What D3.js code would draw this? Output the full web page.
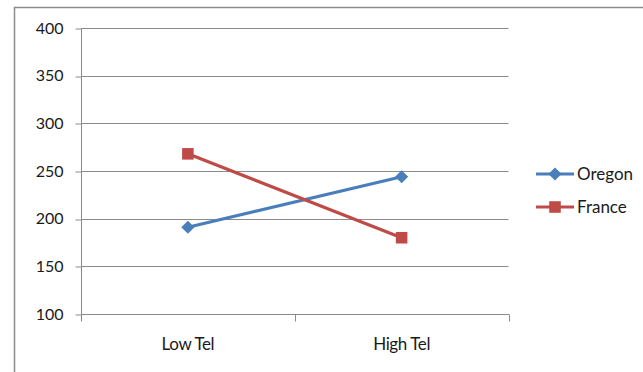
<!DOCTYPE html>
<html>
<head>
<meta charset="utf-8">
<script src="https://cdn.jsdelivr.net/npm/d3@7/dist/d3.min.js"></script>
<style>
  html, body { margin: 0; padding: 0; background: #fff; }
  svg { display: block; }
  text { font-family: Lato, "Liberation Sans", sans-serif; }
</style>
</head>
<body>
<svg id="chart" width="643" height="372"></svg>
<script>
// Scores by telomere group
const categories = ["Low Tel", "High Tel"];
const seriesNames = ["Oregon", "France"];
const oregonValues = [191, 244];
const franceValues = [268, 180];
const yTicks = [100, 150, 200, 250, 300, 350, 400];

const colors = { Oregon: "#4A7EBB", France: "#BE4B48" };
const series = [
  { name: seriesNames[0], values: oregonValues, shape: "diamond" },
  { name: seriesNames[1], values: franceValues, shape: "square" }
];

const svg = d3.select("#chart");

// outer chart frame
svg.append("path")
  .attr("d", "M14.5,372 V7.5 H643")
  .attr("fill", "none")
  .attr("stroke", "#8c8c8c")
  .attr("stroke-width", 1.5);

const plot = { left: 81, right: 508.5, top: 28, bottom: 314 };

const x = d3.scaleBand().domain(categories).range([plot.left, plot.right]);
const y = d3.scaleLinear().domain([100, 400]).range([plot.bottom, plot.top]);

// horizontal gridlines
svg.append("g")
  .selectAll("line")
  .data(yTicks.filter(t => t !== 100))
  .join("line")
  .attr("x1", plot.left).attr("x2", plot.right)
  .attr("y1", d => Math.round(y(d)) + 0.5).attr("y2", d => Math.round(y(d)) + 0.5)
  .attr("stroke", "#8a8a8a").attr("stroke-width", 1);

// y axis
const yAxis = svg.append("g")
  .attr("transform", `translate(${plot.left + 0.5},0)`)
  .call(d3.axisLeft(y).tickValues(yTicks).tickSize(6).tickPadding(12).tickFormat(d3.format("d")));
yAxis.select(".domain").attr("stroke", "#8a8a8a").attr("d", `M0,${plot.top}V${plot.bottom}`);
yAxis.selectAll(".tick line").attr("stroke", "#8a8a8a")
  .attr("transform", d => `translate(0,${Math.round(y(d)) + 0.5 - y(d)})`);
yAxis.selectAll(".tick text").attr("fill", "#1a1a1a").style("font-size", "16px")
  .style("font-family", "Lato, 'Liberation Sans', sans-serif");

// x axis with ticks at band boundaries
const xAxisG = svg.append("g").attr("transform", `translate(0,${plot.bottom + 0.5})`);
xAxisG.append("line")
  .attr("x1", plot.left).attr("x2", plot.right + 0.5)
  .attr("stroke", "#8a8a8a");
const bounds = [plot.left, ...categories.map(c => x(c) + x.bandwidth())];
xAxisG.selectAll(".bt")
  .data(bounds)
  .join("line")
  .attr("class", "bt")
  .attr("x1", d => Math.round(d) + 0.5).attr("x2", d => Math.round(d) + 0.5)
  .attr("y1", 0).attr("y2", 7)
  .attr("stroke", "#8a8a8a");
xAxisG.selectAll(".cat")
  .data(categories)
  .join("text")
  .attr("class", "cat")
  .attr("x", d => x(d) + x.bandwidth() / 2)
  .attr("y", 35)
  .attr("text-anchor", "middle")
  .attr("fill", "#1a1a1a")
  .style("font-size", "17px")
  .style("letter-spacing", "-0.4px")
  .text(d => d);

const cx = c => x(c) + x.bandwidth() / 2;
const line = d3.line().x((d, i) => cx(categories[i])).y(d => y(d));

const diamond = d3.symbol().type(d3.symbolDiamond2).size(110);
const square = d3.symbol().type(d3.symbolSquare2).size(170);
function marker(g, s, px, py) {
  g.append("path")
    .attr("d", s.shape === "diamond" ? diamond() : square())
    .attr("transform", `translate(${px},${py})`)
    .attr("fill", colors[s.name]);
}

series.forEach(s => {
  svg.append("path")
    .datum(s.values)
    .attr("d", line)
    .attr("fill", "none")
    .attr("stroke", colors[s.name])
    .attr("stroke-width", 3.2)
    .attr("stroke-linecap", "round");
});
series.forEach(s => {
  const g = svg.append("g");
  s.values.forEach((v, i) => marker(g, s, cx(categories[i]), y(v)));
});

// legend
const legend = svg.append("g");
series.forEach((s, i) => {
  const ly = 174 + i * 33;
  const g = legend.append("g");
  g.append("line")
    .attr("x1", 536).attr("x2", 574).attr("y1", ly).attr("y2", ly)
    .attr("stroke", colors[s.name]).attr("stroke-width", 3);
  marker(g, s, 555, ly);
  g.append("text")
    .attr("x", 577).attr("y", ly + 6)
    .attr("fill", "#1a1a1a")
    .style("font-size", "17px")
    .text(s.name);
});
</script>
</body>
</html>
